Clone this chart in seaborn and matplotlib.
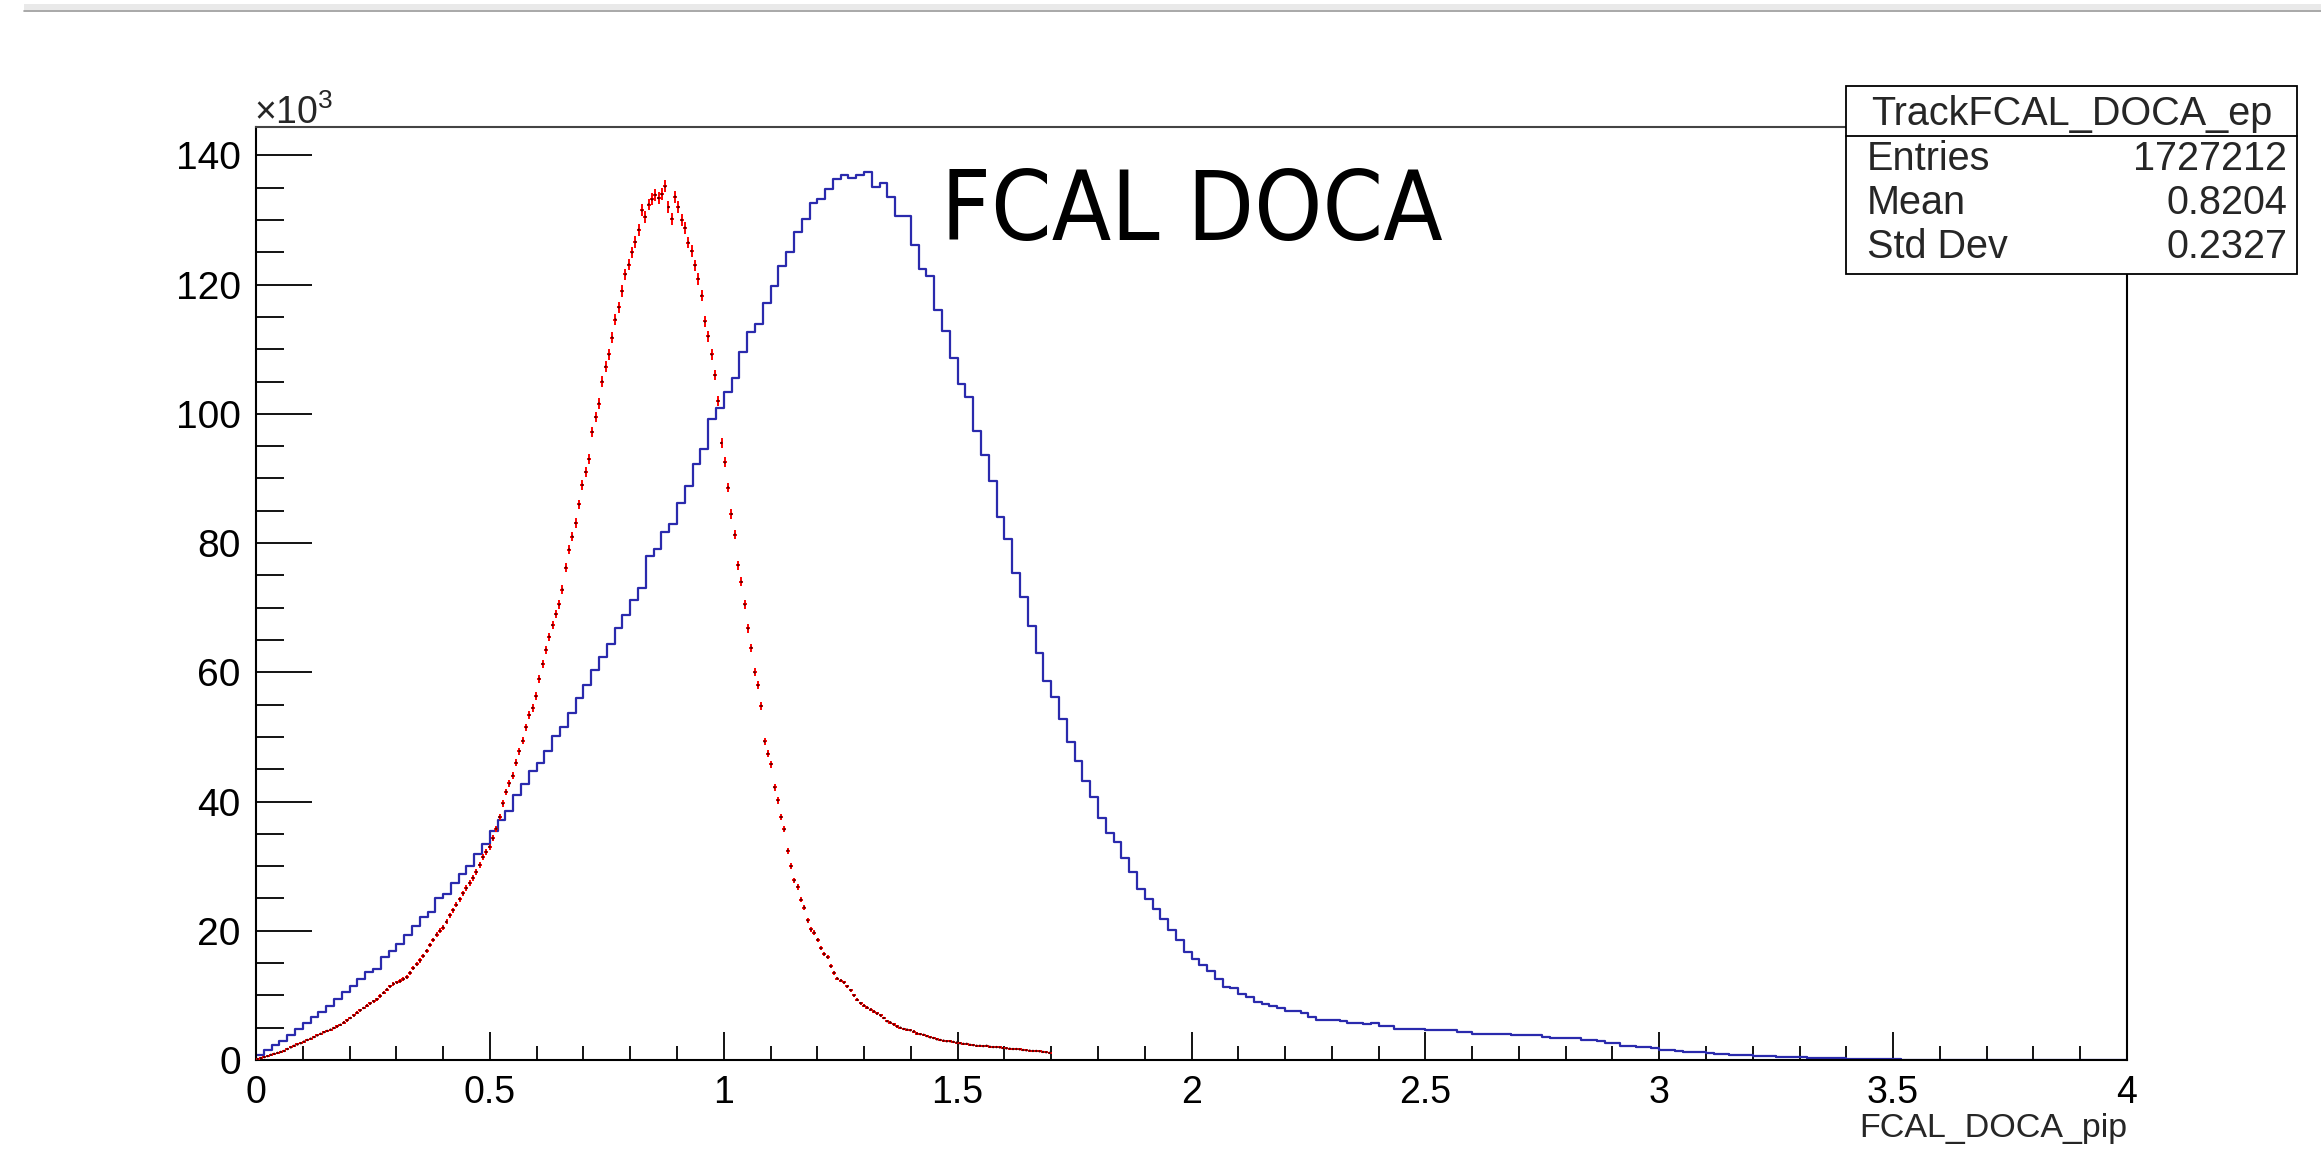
import numpy as np
import pandas as pd
import matplotlib
matplotlib.use("Agg")
import matplotlib.pyplot as plt
import seaborn as sns
from matplotlib import font_manager
from matplotlib.patches import Rectangle
from matplotlib.lines import Line2D
from matplotlib.ticker import FixedLocator, MultipleLocator, NullFormatter

# ---------------- data (values in thousands of entries) ----------------
blue_range = (0.0, 4.0)
blue_counts_k = [
    0.75, 1.6, 2.3, 2.9, 3.8, 4.8, 5.7, 6.6, 7.5, 8.3,
    9.4, 10.5, 11.5, 12.6, 13.6, 14.1, 16.0, 16.9, 17.9, 19.3,
    20.7, 22.1, 22.9, 25.1, 25.7, 27.4, 28.8, 30.1, 31.9, 33.5,
    35.4, 37.1, 38.5, 41.0, 42.7, 44.8, 46.0, 47.8, 50.1, 51.6,
    53.7, 56.0, 58.0, 60.4, 62.4, 64.4, 66.9, 68.9, 71.2, 73.0,
    78.0, 79.1, 81.7, 82.9, 86.2, 88.9, 92.2, 94.6, 99.2, 100.9,
    103.4, 105.6, 109.6, 112.6, 113.9, 117.1, 119.8, 122.9, 125.0, 128.1,
    130.2, 132.6, 133.2, 134.8, 136.3, 137.0, 136.5, 137.0, 137.4, 135.1,
    135.7, 133.5, 130.7, 130.7, 126.2, 122.5, 121.3, 116.1, 112.9, 108.7,
    104.7, 102.6, 97.3, 93.6, 89.6, 84.0, 80.6, 75.4, 71.6, 67.2,
    63.0, 58.6, 56.2, 52.7, 49.2, 46.3, 43.2, 40.7, 37.5, 35.1,
    33.7, 31.2, 29.1, 26.5, 24.9, 23.4, 21.8, 20.1, 18.5, 16.7,
    15.6, 14.7, 13.7, 12.5, 11.3, 11.1, 10.2, 9.7, 9.0, 8.6,
    8.3, 8.0, 7.6, 7.6, 7.2, 6.7, 6.2, 6.2, 6.2, 6.0,
    5.8, 5.8, 5.6, 5.8, 5.3, 5.3, 4.8, 4.8, 4.8, 4.8,
    4.6, 4.6, 4.6, 4.6, 4.4, 4.4, 4.1, 4.1, 4.1, 4.1,
    4.1, 3.9, 3.9, 3.9, 3.9, 3.6, 3.4, 3.4, 3.4, 3.4,
    3.1, 3.1, 2.9, 2.7, 2.7, 2.2, 2.2, 2.0, 2.0, 1.8,
    1.6, 1.5, 1.4, 1.3, 1.3, 1.2, 1.1, 1.0, 0.9, 0.85,
    0.8, 0.7, 0.65, 0.6, 0.55, 0.5, 0.45, 0.45, 0.4, 0.35,
    0.35, 0.3, 0.25, 0.25, 0.2, 0.2, 0.2, 0.15, 0.15, 0.15,
    0.1, 0, 0, 0, 0, 0, 0, 0, 0, 0,
    0, 0, 0, 0, 0, 0, 0, 0, 0, 0,
    0, 0, 0, 0, 0, 0, 0, 0, 0, 0,
]

red_range = (0.0, 1.7)
red_counts_k = [
    0.15, 0.3, 0.45, 0.6, 0.8, 0.95, 1.1, 1.25, 1.4, 1.7,
    1.95, 2.2, 2.4, 2.6, 2.85, 3.1, 3.3, 3.55, 3.8, 4.05,
    4.3, 4.5, 4.7, 4.95, 5.2, 5.45, 5.8, 6.15, 6.5, 6.9,
    7.3, 7.7, 8.05, 8.4, 8.75, 9.1, 9.4, 9.9, 10.4, 10.9,
    11.4, 11.8, 12.0, 12.2, 12.5, 12.8, 13.5, 14.2, 14.8, 15.4,
    16.1, 16.9, 17.8, 18.6, 19.4, 20.0, 20.5, 21.4, 22.4, 23.2,
    24.0, 24.9, 25.8, 26.6, 27.4, 28.2, 29.1, 30.2, 31.4, 32.2,
    33.0, 34.3, 35.8, 37.6, 39.7, 41.5, 42.8, 44.0, 46.0, 47.8,
    49.4, 51.5, 53.4, 54.5, 56.3, 59.0, 61.3, 63.5, 65.5, 67.3,
    69.0, 70.5, 72.8, 76.2, 79.0, 81.0, 83.1, 86.0, 89.0, 91.0,
    93.0, 97.2, 99.5, 101.6, 105.0, 107.3, 109.2, 111.8, 114.6, 116.5,
    119.0, 121.6, 123.1, 125.0, 126.6, 128.5, 131.5, 130.5, 132.4, 133.2,
    133.9, 133.4, 134.0, 135.2, 132.0, 130.2, 133.6, 132.0, 130.0, 128.8,
    126.5, 125.2, 123.0, 120.9, 118.3, 114.3, 112.0, 109.2, 106.0, 102.0,
    95.5, 92.5, 88.6, 84.5, 81.3, 76.6, 74.0, 70.5, 66.8, 63.8,
    60.0, 58.0, 54.8, 49.3, 47.4, 45.8, 42.2, 40.2, 37.6, 35.7,
    32.4, 30.0, 27.8, 26.8, 24.8, 23.6, 21.6, 20.2, 19.7, 18.6,
    17.3, 16.4, 15.9, 14.5, 13.5, 12.6, 12.3, 12.0, 11.4, 10.8,
    10.0, 9.3, 8.8, 8.4, 8.1, 7.8, 7.5, 7.2, 6.9, 6.5,
    6.0, 5.8, 5.5, 5.2, 5.0, 4.8, 4.7, 4.6, 4.4, 4.1,
    4.0, 3.9, 3.7, 3.5, 3.4, 3.2, 3.1, 3.0, 2.9, 2.9,
    2.8, 2.7, 2.6, 2.5, 2.5, 2.35, 2.3, 2.2, 2.2, 2.15,
    2.2, 2.05, 2.0, 2.0, 1.95, 1.85, 1.8, 1.75, 1.7, 1.7,
    1.65, 1.55, 1.5, 1.45, 1.4, 1.4, 1.35, 1.25, 1.2, 1.1,
]
red_scale_factor = 6.4  # normalisation factor of the red histogram (for its error bars)

x_ticks = [0, 0.5, 1, 1.5, 2, 2.5, 3, 3.5, 4]
x_tick_labels = ["0", "0.5", "1", "1.5", "2", "2.5", "3", "3.5", "4"]
y_ticks_k = [0, 20, 40, 60, 80, 100, 120, 140]
y_tick_labels = ["0", "20", "40", "60", "80", "100", "120", "140"]
y_max_k = 144.4

title_text = "FCAL DOCA"
x_label = "FCAL_DOCA_pip"
y_exponent_text = r"$\mathregular{\times10^{3}}$"
stats_title = "TrackFCAL_DOCA_ep"
stats_rows = [("Entries", "1727212"), ("Mean", "0.8204"), ("Std Dev", "0.2327")]

# ---------------- style ----------------
sns.set_theme(style="white")
plt.rcParams["font.family"] = ["Liberation Sans", "DejaVu Sans"]
plt.rcParams["mathtext.fontset"] = "custom"
plt.rcParams["mathtext.rm"] = "Liberation Sans"
plt.rcParams["mathtext.it"] = "Liberation Sans:italic"
plt.rcParams["mathtext.bf"] = "Liberation Sans:bold"

W, H = 2321, 1173
fig = plt.figure(figsize=(W / 100, H / 100), dpi=100)
fig.patch.set_facecolor("white")

def fx(px):
    return px / W

def fy(py):
    return 1 - py / H

ax_l, ax_r, ax_t, ax_b = 256, 2127, 127, 1060
ax = fig.add_axes([fx(ax_l), fy(ax_b), (ax_r - ax_l) / W, (ax_b - ax_t) / H])
ax.set_facecolor("white")

# ---------------- blue histogram ----------------
nb = len(blue_counts_k)
blue_edges = np.linspace(blue_range[0], blue_range[1], nb + 1)
blue_centers = 0.5 * (blue_edges[:-1] + blue_edges[1:])
df_blue = pd.DataFrame({"x": blue_centers, "w": np.array(blue_counts_k) * 1000.0})
sns.histplot(data=df_blue, x="x", weights="w", bins=[float(b) for b in blue_edges],
             element="step", fill=False, color="#2a2aad", linewidth=1.6, ax=ax, zorder=2)

# ---------------- red histogram (error bars) ----------------
nr = len(red_counts_k)
red_edges = np.linspace(red_range[0], red_range[1], nr + 1)
red_centers = 0.5 * (red_edges[:-1] + red_edges[1:])
red_vals = np.array(red_counts_k) * 1000.0
red_half = 0.6 * (red_edges[1] - red_edges[0])
red_err = np.sqrt(red_vals * red_scale_factor)
ax.errorbar(red_centers, red_vals, xerr=red_half, yerr=red_err, fmt="none",
            ecolor="#ff0000", elinewidth=1.4, capsize=0, zorder=3)
sns.scatterplot(x=red_centers, y=red_vals, ax=ax, color="#500000", s=3,
                edgecolor="none", zorder=4, legend=False)

# ---------------- axes ----------------
ax.set_xlim(0, 4)
ax.set_ylim(0, y_max_k * 1000)
ax.set_xlabel("")
ax.set_ylabel("")
ax.xaxis.set_major_locator(FixedLocator(x_ticks))
ax.set_xticklabels(x_tick_labels)
ax.xaxis.set_minor_locator(MultipleLocator(0.1))
ax.yaxis.set_major_locator(FixedLocator([v * 1000 for v in y_ticks_k]))
ax.set_yticklabels(y_tick_labels)
ax.yaxis.set_minor_locator(MultipleLocator(5000))
ax.xaxis.set_minor_formatter(NullFormatter())
ax.yaxis.set_minor_formatter(NullFormatter())

ax.tick_params(axis="x", which="major", direction="in", length=20, width=1.3,
               labelsize=27, pad=11, colors="black", bottom=True, top=False)
ax.tick_params(axis="x", which="minor", direction="in", length=10, width=1.3,
               bottom=True, top=False, colors="black")
ax.tick_params(axis="y", which="major", direction="in", length=40, width=1.3,
               labelsize=28, pad=11, colors="black", left=True, right=False)
ax.tick_params(axis="y", which="minor", direction="in", length=20, width=1.3,
               left=True, right=False, colors="black")
for s in ax.spines.values():
    s.set_visible(True)
    s.set_color("black")
    s.set_linewidth(1.5)
ax.spines["top"].set_color("#444444")
ax.grid(False)

# exponent and axis title
fig.text(fx(254), fy(124), y_exponent_text, fontsize=27, ha="left", va="baseline")
fig.text(fx(2127), fy(1137), x_label, fontsize=24.5, ha="right", va="baseline")

# ---------------- big title ----------------
def find_condensed():
    prefs = ["DejaVuSansCondensed.ttf", "LiberationSansNarrow-Regular.ttf",
             "RobotoCondensed-Regular.ttf"]
    files = [f.fname for f in font_manager.fontManager.ttflist]
    for p in prefs:
        for f in files:
            if f.endswith(p):
                return f
    return None

cf = find_condensed()
if cf:
    tprop = font_manager.FontProperties(fname=cf)
else:
    tprop = font_manager.FontProperties(family="DejaVu Sans")
t = fig.text(fx(1192), fy(240), title_text, fontproperties=tprop, fontsize=80,
             ha="center", va="baseline", color="black")
fig.canvas.draw()
bb = t.get_window_extent()
s_w = 80 * 478.0 / bb.width
s_h = 80 * 82.0 / (bb.height * 0.76)
t.set_fontsize(s_w ** 0.75 * s_h ** 0.25)

# ---------------- stats box ----------------
bx0, bx1, by0, by1 = 1846, 2297, 86, 274
fig.add_artist(Rectangle((fx(bx0), fy(by1)), (bx1 - bx0) / W, (by1 - by0) / H,
                         transform=fig.transFigure, facecolor="white",
                         edgecolor="black", linewidth=1.3, zorder=10))
fig.add_artist(Line2D([fx(bx0), fx(bx1)], [fy(136), fy(136)],
                      transform=fig.transFigure, color="black", linewidth=1.3, zorder=11))
fig.text(fx((bx0 + bx1) / 2), fy(114), stats_title, fontsize=28.5, ha="center",
         va="center", zorder=12)
row_y = [159, 203, 247]
for (lab, val), yy in zip(stats_rows, row_y):
    fig.text(fx(1867), fy(yy), lab, fontsize=28.5, ha="left", va="center", zorder=12)
    fig.text(fx(2287), fy(yy), val, fontsize=28.5, ha="right", va="center", zorder=12)

# ---------------- window bar at the very top ----------------
fig.add_artist(Rectangle((fx(24), fy(10)), (W - 24) / W, 6 / H, transform=fig.transFigure,
                         facecolor="#e9e9e9", edgecolor="none", zorder=5))
fig.add_artist(Line2D([fx(24), 1], [fy(10.5), fy(10.5)], transform=fig.transFigure,
                      color="#9a9a9a", linewidth=1.2, zorder=6))

fig.savefig("out.png", dpi=100, facecolor="white")
